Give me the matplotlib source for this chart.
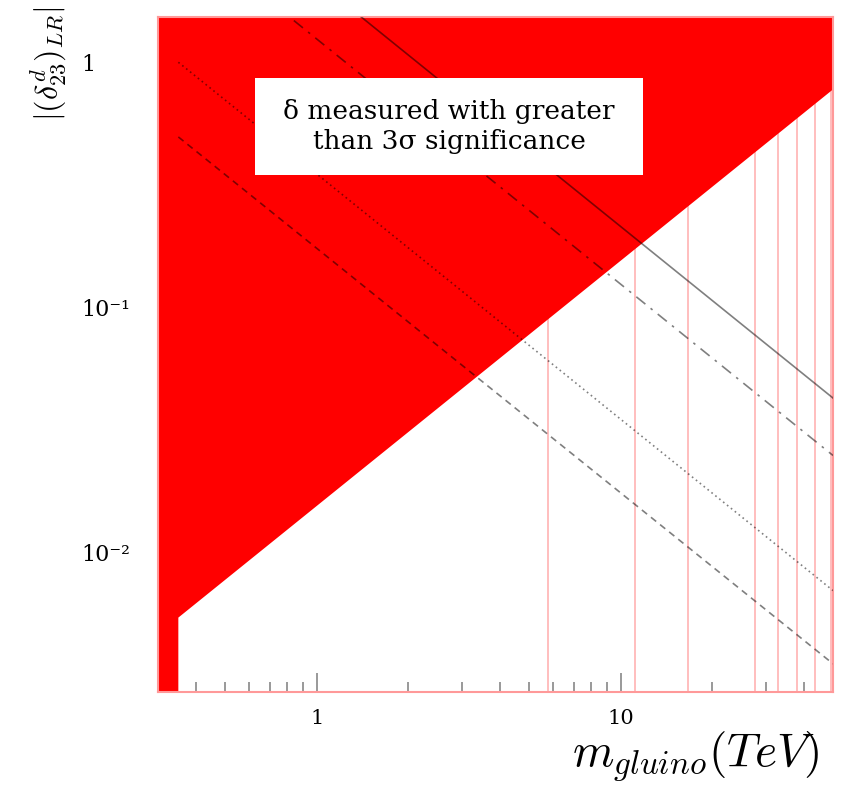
import numpy as np
import matplotlib
matplotlib.use('Agg')
import matplotlib.pyplot as plt
from matplotlib.patches import Rectangle
from matplotlib.ticker import FixedLocator, LogLocator, NullFormatter

plt.rcParams['mathtext.fontset'] = 'cm'

# Limites dos eixos (TeV, |delta|)
x_lim = (0.3, 50)
y_lim = (0.0027, 1.53)

# Fronteira da região vermelha (3 sigma)
m_fronteira = [0.35, 50]
d_fronteira = [0.00543, 0.775]

# Curvas (pontos extremos)
m_solida = [1.40, 50]
d_solida = [1.53, 0.0427]
m_traco_ponto = [0.84, 50]
d_traco_ponto = [1.48, 0.0249]
m_pontilhada = [0.35, 50]
d_pontilhada = [1.0, 0.0070]
m_tracejada = [0.35, 50]
d_tracejada = [0.496, 0.00352]

# Linhas verticais rosadas
m_verticais = [5.77, 11.15, 16.6, 27.6, 33.0, 38.1, 43.5, 49.1]

# Rótulos
y_ticks = [1, 0.1, 0.01]
y_rotulos = ['1', '10⁻¹', '10⁻²']
x_ticks = [1, 10]
x_rotulos = ['1', '10']
texto_caixa = 'δ measured with greater\nthan 3σ significance'

fig = plt.figure(figsize=(8.48, 7.85), dpi=100)
ax = fig.add_axes([158/848, 1 - 692/785, (833-158)/848, (692-17)/785])
ax.set_xscale('log')
ax.set_yscale('log')
ax.set_xlim(*x_lim)
ax.set_ylim(*y_lim)

for m in m_verticais:
    ax.axvline(m, color='#ffb3b3', lw=1.2, zorder=1)

# Região vermelha
xf = [x_lim[0], m_fronteira[0], m_fronteira[0], m_fronteira[1]]
yf = [y_lim[0], y_lim[0], d_fronteira[0], d_fronteira[1]]
ax.fill_between(xf, yf, 10, color='#ff0000', lw=0, zorder=2)

estilo = dict(color='black', alpha=0.5, lw=1.2, zorder=3)
ax.plot(m_solida, d_solida, ls='-', **estilo)
ax.plot(m_traco_ponto, d_traco_ponto, ls=(0, (7, 4, 1.5, 4)), **estilo)
ax.plot(m_pontilhada, d_pontilhada, ls=(0, (1, 2)), **estilo)
ax.plot(m_tracejada, d_tracejada, ls=(0, (4, 3)), **estilo)

for s in ax.spines.values():
    s.set_color('#ff9999')
    s.set_linewidth(1.5)

ax.xaxis.set_major_locator(FixedLocator(x_ticks))
ax.xaxis.set_minor_locator(LogLocator(base=10, subs=np.arange(2, 10)))
ax.xaxis.set_minor_formatter(NullFormatter())
ax.set_xticklabels(x_rotulos, family='DejaVu Serif', fontsize=15)
ax.yaxis.set_major_locator(FixedLocator(y_ticks))
ax.yaxis.set_minor_locator(LogLocator(base=10, subs=np.arange(2, 10)))
ax.yaxis.set_minor_formatter(NullFormatter())
ax.set_yticklabels(y_rotulos, family='DejaVu Serif', fontsize=16, ha='left')

ax.tick_params(axis='x', which='both', direction='in', color='#888888', top=False, pad=12)
ax.tick_params(axis='x', which='major', length=14, width=1.2)
ax.tick_params(axis='x', which='minor', length=7, width=1.2)
ax.tick_params(axis='y', which='both', direction='in', color='#330000', right=False, pad=55)
ax.tick_params(axis='y', which='major', length=14, width=1.2)
ax.tick_params(axis='y', which='minor', length=7, width=1.2)

# Caixa de texto branca
ax.add_patch(Rectangle(((255-158)/675, 1 - (175-17)/675), 388/675, 97/675,
                       transform=ax.transAxes, fc='white', ec='none', zorder=4))
ax.text((449-158)/675, 1 - (126.5-17)/675, texto_caixa, transform=ax.transAxes,
        ha='center', va='center', family='DejaVu Serif', fontsize=19,
        linespacing=1.25, zorder=5)

fig.text(49/848, 1 - 64/785, r'$|(\delta^d_{23})_{LR}|$', rotation=90,
         ha='center', va='center', fontsize=23)
fig.text(696/848, 1 - 757/785, r'$m_{gluino}(TeV)$', ha='center', va='center', fontsize=34)

fig.savefig('out.png', dpi=100)
